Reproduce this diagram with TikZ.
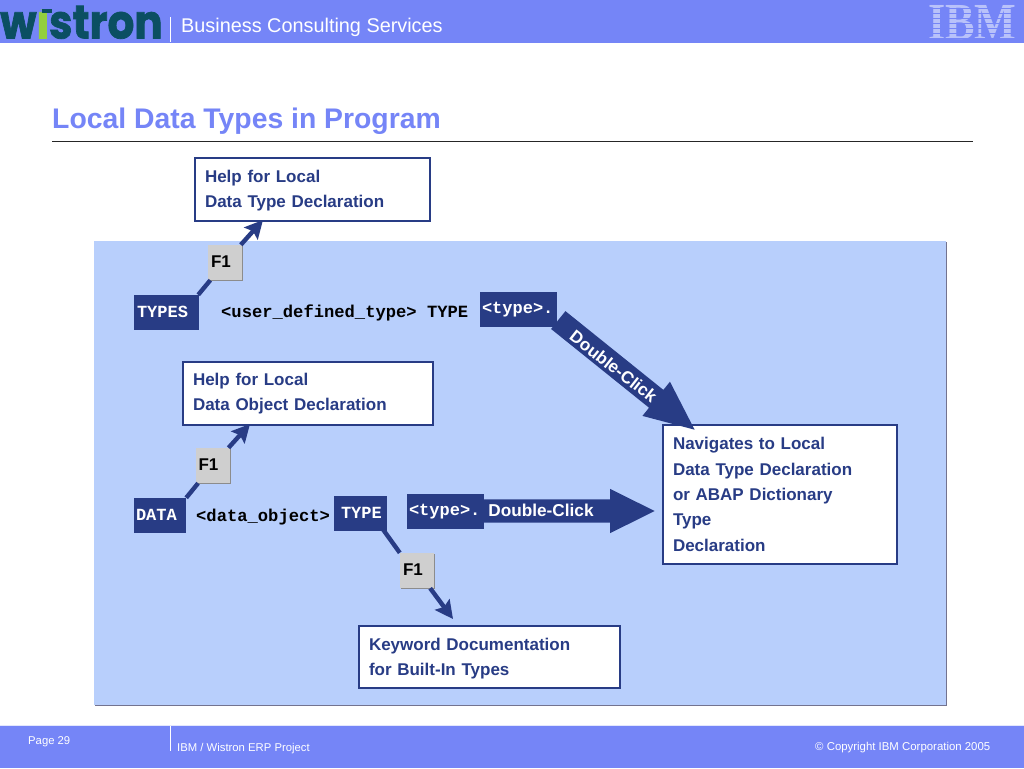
\documentclass[tikz,border=0pt]{standalone}
\usepackage{fontspec}
\setmainfont{Liberation Sans}
\newfontfamily\codefont{Liberation Mono}
\newfontfamily\logofont[BoldFeatures={FakeBold=1.6}]{Poppins}
\newfontfamily\ibmfont{Liberation Serif}
\usetikzlibrary{arrows.meta,shapes.arrows,shadows,calc}
\definecolor{barblue}{HTML}{7585F7}
\definecolor{panelblue}{HTML}{B8CFFC}
\definecolor{navy}{HTML}{283C85}
\definecolor{keygray}{HTML}{CFCFCF}
\definecolor{logoteal}{HTML}{0B4F62}
\definecolor{logogreen}{HTML}{93CF3E}
\definecolor{ibmlight}{HTML}{B9C2FA}
\tikzset{
  x=1pt,y=-1pt,
  infobox/.style={draw=navy,line width=2pt,fill=white,text=navy,inner xsep=10pt,inner ysep=0pt,
    text width=#1,align=left,font=\fontsize{17}{25.4}\selectfont\bfseries},
  codebox/.style={fill=navy,text=white,inner sep=0pt,text width=#1,align=left,minimum height=35pt,
    font=\fontsize{17}{20}\selectfont\codefont\bfseries},
  codetext/.style={text=black,inner sep=0pt,anchor=base west,font=\fontsize{17.15}{20}\selectfont\codefont\bfseries},
  keybox/.style={fill=keygray,inner xsep=3pt,inner ysep=0pt,text width=28pt,minimum height=35pt,align=left,
    font=\fontsize{17}{20}\selectfont\bfseries,text=black,
    general shadow={shadow xshift=1pt,shadow yshift=-1.2pt,fill=black!45}},
  link/.style={draw=navy,line width=4.4pt},
  linktip/.style={link,-{Stealth[length=18pt,width=18pt,inset=3pt]}},
  blockarrow/.style={single arrow,fill=navy,inner xsep=0pt,anchor=tip},
  clicklabel/.style={text=white,inner sep=0pt,font=\fontsize{17.2}{20}\selectfont\bfseries},
  bartext/.style={text=white,inner sep=0pt,anchor=base west},
  tickmark/.style={draw=white,line width=1pt},
}
\begin{document}
\begin{tikzpicture}
\useasboundingbox (0,0) rectangle (1024,768);
\fill[white] (0,0) rectangle (1024,768);
% header
\fill[barblue] (0,0) rectangle (1024,43);
\node[inner sep=0pt,anchor=base west,text=logoteal] (logo) at (0,38.5)
  {\scalebox{0.895}[1]{\fontsize{47}{47}\logofont\bfseries w\textcolor{logogreen}{i}stron}};
\fill[barblue] (36,0) rectangle (54,9);
\fill[logoteal] (42,9) rectangle (52,13);
\draw[tickmark] (170.5,17) -- (170.5,42);
\node[bartext,text=white,font=\fontsize{19.85}{24}\selectfont] (brand) at (181,33) {Business Consulting Services};
% IBM logo
\node[inner sep=0pt,text=ibmlight] (ibm) at (972.5,23)
  {\scalebox{0.85}[1]{\fontsize{52}{52}\ibmfont\bfseries IBM}};
\foreach \yy in {8.5,13.5,18.5,23.5,28.5,33.5,38.5}
  \fill[barblue] (925,\yy-0.8) rectangle (1020,\yy+0.8);
% title
\node[inner sep=0pt,anchor=base west,text=barblue,font=\fontsize{28.35}{34}\selectfont\bfseries] (title) at (52,128) {Local Data Types in Program};
\draw[black!85,line width=1pt] (52,141) -- (973,141);
% panel
\fill[black!20,fill=blue!20!black!55] (95,242) rectangle (947,706);
\fill[panelblue] (94,241) rectangle (946,705);
% info boxes
\node[infobox=215pt,minimum height=63pt] (helptype) at (312.5,189.5) {\rule{0pt}{15pt}Help for Local\\Data Type Declaration};
\node[infobox=230pt,minimum height=63pt] (helpobj) at (308,393.5) {Help for Local\\Data Object Declaration};
\node[infobox=214pt,minimum height=139pt] (nav) at (780,494.5) {Navigates to Local\\Data Type Declaration\\or ABAP Dictionary\\Type\\Declaration};
\node[infobox=241pt,minimum height=62pt] (kw) at (489.5,657) {\rule{0pt}{15pt}Keyword Documentation\\for Built-In Types};
% code
\node[codebox=65pt] (types) at (166.5,312.5) {\hspace*{3pt}\raisebox{1pt}{TYPES}};
\node[codetext] (udt) at (221,317) {<user\_defined\_type> TYPE};
\node[codebox=77pt] (typea) at (518.5,309.5) {\hspace*{2pt}<type>.};
\node[codebox=52pt] (data) at (160,515.5) {\hspace*{2pt}\raisebox{1pt}{DATA}};
\node[codetext] (dobj) at (196,521) {<data\_object>};
\node[codebox=53pt] (typekw) at (360.5,513) {\hspace*{7pt}\raisebox{1pt}{TYPE}};
% block arrows
\node[blockarrow,rotate=-38.8,inner ysep=11.25pt,minimum height=175pt,single arrow head extend=10.5pt,single arrow tip angle=48] (clicka) at (695,430) {};
\node[blockarrow,inner ysep=11.5pt,minimum height=175pt,single arrow head extend=10.5pt,single arrow tip angle=53] (clickb) at (655,511) {};
\node[codebox=77pt] (typeb) at (445.5,511.5) {\hspace*{2pt}<type>.};
\node[clicklabel,rotate=-38] (clickalabel) at (613.5,366.5) {Double-Click};
\node[clicklabel] (clickblabel) at (541,510) {Double-Click};
% keys
\node[keybox] (keya) at (225,262.5) {\raisebox{1pt}{F1}};
\node[keybox] (keyb) at (212.5,465.5) {\raisebox{1pt}{F1}};
\node[keybox] (keyc) at (417,570.5) {\raisebox{1pt}{F1}};
\coordinate (tipa) at (263,220);
\coordinate (tipb) at (250,424);
\coordinate (tipc) at (453,619);
\coordinate (starta) at ($(types.north east)+(-1,0)$);
\coordinate (startb) at (data.north east);
\coordinate (startc) at ($(typekw.south east)+(-4,-1)$);
\draw[link] (starta) -- (keya);
\draw[linktip] (keya) -- (tipa);
\draw[link] (startb) -- (keyb);
\draw[linktip] (keyb) -- (tipb);
\draw[link] (startc) -- (keyc.north west);
\draw[linktip] (keyc) -- (tipc);
% footer
\fill[barblue] (0,725) rectangle (1024,768);
\draw[white!80!barblue,line width=.6pt] (0,725) -- (1024,725);
\draw[tickmark] (170.5,726) -- (170.5,751);
\node[bartext,font=\fontsize{11.3}{14}\selectfont] (page) at (28,744) {Page 29};
\node[bartext,font=\fontsize{11.3}{14}\selectfont] (proj) at (177,751) {IBM / Wistron ERP Project};
\node[bartext,font=\fontsize{11.4}{14}\selectfont] (copy) at (815,750) {© Copyright IBM Corporation 2005};
\end{tikzpicture}
\end{document}
